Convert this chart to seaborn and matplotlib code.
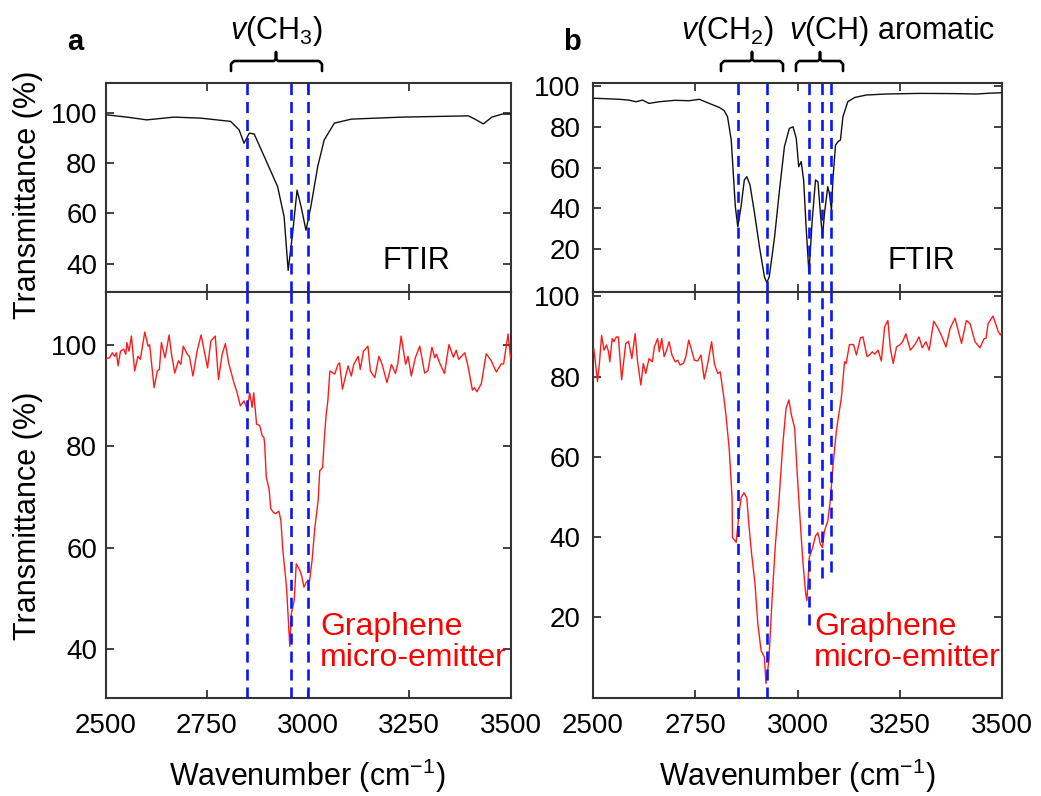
import matplotlib
matplotlib.use("Agg")
import matplotlib.pyplot as plt
import numpy as np
import pandas as pd
import seaborn as sns
from matplotlib.lines import Line2D

# ---- data ------------------------------------------------------------------
# panel a, FTIR (black)
a_ftir_wn = [2503, 2553, 2602, 2669, 2735, 2809, 2830, 2842, 2855, 2867, 2892, 2925,
             2941, 2951, 2962, 2973, 2983, 2995, 3007, 3024, 3040, 3065, 3107, 3231,
             3396, 3412, 3433, 3454, 3479, 3499]
a_ftir_t = [99.3, 98.4, 97.3, 98.4, 98.0, 96.7, 93.3, 88.0, 92.0, 91.7, 82.7, 70.7,
            58.7, 37.3, 52.0, 69.3, 62.7, 53.3, 62.7, 78.7, 89.3, 96.0, 97.6, 98.4,
            98.9, 97.6, 95.7, 98.4, 99.6, 99.6]

# panel a, graphene micro-emitter (red)
a_em_wn = [2502, 2510, 2517, 2522, 2527, 2531, 2537, 2545, 2550, 2553, 2558, 2564, 2572,
           2580, 2586, 2597, 2605, 2609, 2620, 2628, 2633, 2638, 2647, 2657, 2663, 2671,
           2680, 2686, 2692, 2702, 2707, 2716, 2726, 2736, 2744, 2752, 2760, 2771, 2779,
           2788, 2796, 2804, 2817, 2825, 2833, 2842, 2850, 2856, 2862, 2866, 2873, 2881,
           2887, 2891, 2893, 2897, 2904, 2908, 2914, 2920, 2928, 2933, 2938, 2947, 2955,
           2959, 2966, 2971, 2980, 2985, 2990, 2996, 3004, 3010, 3017, 3025, 3029, 3036,
           3041, 3045, 3049, 3054, 3062, 3066, 3074, 3078, 3085, 3099, 3107, 3113, 3124,
           3129, 3137, 3148, 3154, 3165, 3175, 3183, 3195, 3206, 3216, 3222, 3230, 3241,
           3247, 3255, 3265, 3276, 3288, 3296, 3306, 3313, 3317, 3325, 3337, 3348, 3359,
           3366, 3372, 3387, 3395, 3406, 3411, 3417, 3428, 3440, 3452, 3465, 3477, 3483,
           3494, 3500]
a_em_t = [97.4, 97.5, 98.5, 97.8, 98.5, 95.9, 98.8, 99.2, 98.2, 100.5, 98.8, 101.8, 94.9,
          97.8, 97.2, 102.6, 99.8, 100.1, 91.6, 94.9, 95.2, 100.5, 97.5, 102.0, 98.2, 94.5,
          96.9, 96.2, 99.8, 98.2, 97.8, 93.9, 98.8, 102.0, 98.8, 95.5, 100.8, 101.8, 93.2,
          98.2, 100.3, 96.5, 92.6, 90.6, 88.0, 89.0, 87.3, 90.6, 87.7, 90.6, 84.4, 84.1,
          82.1, 81.8, 80.5, 73.9, 71.6, 67.7, 67.0, 66.7, 67.2, 65.4, 59.4, 52.2, 40.5,
          47.0, 49.6, 56.8, 55.5, 54.2, 52.2, 53.2, 53.5, 57.5, 64.0, 69.3, 75.2, 75.8,
          82.4, 86.4, 89.0, 94.9, 94.5, 94.3, 96.2, 96.5, 91.3, 95.9, 93.9, 96.2, 97.8,
          95.2, 98.8, 99.8, 94.9, 93.6, 97.8, 96.2, 92.6, 96.2, 94.4, 96.5, 101.8, 96.2,
          97.8, 93.9, 97.5, 99.8, 94.5, 94.9, 99.6, 97.5, 98.2, 96.5, 94.4, 100.1, 97.6,
          99.0, 97.2, 98.5, 95.9, 91.1, 91.6, 90.8, 92.4, 98.3, 97.0, 94.7, 96.3, 96.3,
          102.2, 97.5]

# panel b, FTIR (black)
b_ftir_wn = [2502, 2530, 2564, 2588, 2605, 2621, 2637, 2662, 2700, 2735, 2760, 2784, 2809,
             2821, 2829, 2838, 2843, 2848, 2854, 2862, 2870, 2876, 2884, 2895, 2907, 2919,
             2925, 2931, 2944, 2956, 2968, 2980, 2989, 2997, 3003, 3009, 3015, 3021, 3028,
             3036, 3044, 3050, 3056, 3061, 3066, 3074, 3078, 3083, 3087, 3093, 3099, 3105,
             3111, 3123, 3140, 3168, 3217, 3299, 3380, 3438, 3470, 3498]
b_ftir_t = [94.0, 93.8, 93.5, 93.1, 92.3, 93.1, 91.5, 92.3, 93.0, 92.8, 93.5, 91.5, 89.5,
            87.9, 84.9, 73.5, 57.2, 40.8, 31.0, 40.8, 53.9, 55.5, 51.4, 37.5, 21.1, 6.4,
            3.5, 6.4, 26.0, 49.0, 70.2, 79.2, 80.0, 74.3, 60.4, 62.9, 53.9, 31.0, 8.1,
            34.2, 53.9, 53.0, 37.5, 26.0, 37.5, 50.6, 47.3, 39.1, 55.5, 71.0, 72.7, 73.5,
            84.9, 92.3, 94.4, 95.6, 96.1, 96.4, 96.3, 96.1, 96.5, 96.7]

# panel b, graphene micro-emitter (red)
b_em_wn = [2502, 2511, 2516, 2521, 2527, 2533, 2538, 2541, 2547, 2551, 2557, 2562, 2570,
           2580, 2587, 2595, 2603, 2609, 2617, 2623, 2629, 2637, 2645, 2650, 2658, 2662,
           2668, 2674, 2680, 2686, 2693, 2701, 2707, 2713, 2721, 2727, 2734, 2739, 2748,
           2756, 2764, 2772, 2780, 2790, 2797, 2805, 2811, 2819, 2825, 2833, 2840, 2841,
           2850, 2856, 2862, 2869, 2876, 2881, 2887, 2896, 2903, 2911, 2919, 2923, 2930,
           2938, 2946, 2954, 2964, 2972, 2979, 2985, 2993, 2998, 3005, 3013, 3020, 3023,
           3029, 3037, 3044, 3050, 3056, 3061, 3066, 3074, 3080, 3087, 3095, 3099, 3107,
           3115, 3119, 3127, 3137, 3144, 3154, 3160, 3170, 3176, 3183, 3189, 3197, 3205,
           3213, 3221, 3227, 3234, 3242, 3250, 3257, 3265, 3276, 3287, 3297, 3305, 3314,
           3322, 3333, 3344, 3355, 3363, 3373, 3385, 3397, 3401, 3413, 3422, 3434, 3446,
           3456, 3461, 3466, 3478, 3491, 3496, 3499]
b_em_t = [87.0, 78.8, 83.7, 90.3, 86.6, 87.9, 86.2, 83.7, 89.5, 88.7, 89.9, 89.9, 79.2,
          88.3, 88.8, 84.5, 90.7, 83.7, 77.9, 83.3, 80.8, 84.5, 83.7, 87.4, 89.5, 86.2,
          89.5, 85.0, 86.6, 88.7, 85.4, 83.7, 84.1, 82.9, 83.3, 85.0, 89.1, 87.4, 84.1,
          83.9, 85.4, 79.4, 83.0, 88.7, 83.1, 80.8, 81.2, 75.5, 70.5, 62.0, 49.8, 39.9,
          38.7, 44.9, 49.8, 51.1, 49.8, 43.2, 36.6, 28.4, 18.4, 11.7, 10.1, 3.5, 9.2,
          24.9, 38.2, 48.1, 63.0, 72.1, 74.2, 70.5, 67.2, 58.1, 46.5, 34.1, 25.9, 24.2,
          35.0, 37.4, 40.3, 41.1, 38.2, 37.4, 41.6, 44.0, 49.0, 58.1, 66.4, 69.3, 74.5,
          83.7, 83.3, 88.0, 88.0, 85.4, 89.7, 89.9, 85.0, 85.4, 86.2, 85.6, 86.6, 83.9,
          92.4, 94.0, 87.0, 83.3, 87.4, 87.9, 88.7, 90.7, 86.6, 88.0, 89.9, 87.2, 88.7,
          86.6, 93.8, 92.0, 89.5, 87.4, 92.0, 94.6, 89.9, 88.3, 94.0, 93.2, 88.7, 87.2,
          89.4, 89.6, 93.2, 95.1, 91.2, 90.4, 91.0]

# band positions (blue dashed) and where they stop in the lower panel
a_bands = [2850, 2957, 2999]
b_bands = [2854, 2926, 3027, 3059, 3083]
b_band_ends = [None, None, 18.0, 29.7, 31.3]

x_ticks = [2500, 2750, 3000, 3250, 3500]

# ---- style -----------------------------------------------------------------
sns.set_style("ticks")
plt.rcParams["font.family"] = ["Liberation Sans", "DejaVu Sans"]
plt.rcParams["text.color"] = "black"
plt.rcParams["axes.labelcolor"] = "black"
plt.rcParams["xtick.color"] = "black"
plt.rcParams["ytick.color"] = "black"
plt.rcParams["mathtext.fontset"] = "custom"
plt.rcParams["mathtext.rm"] = "Liberation Sans"
plt.rcParams["mathtext.it"] = "Liberation Sans:italic"
plt.rcParams["mathtext.bf"] = "Liberation Sans:bold"

W, H = 1041, 796
fig = plt.figure(figsize=(W / 100, H / 100), dpi=100)


def fx(px):
    return px / W


def fy(py):
    return 1 - py / H


def panel(x0, x1, y0, y1):
    return fig.add_axes([fx(x0), fy(y1), fx(x1) - fx(x0), fy(y0) - fy(y1)])


ax_a_top = panel(105.5, 510.5, 83, 292)
ax_a_bot = panel(105.5, 510.5, 292, 698)
ax_b_top = panel(593, 1002, 83, 292)
ax_b_bot = panel(593, 1002, 292, 698)

BLUE = "#0a14ff"
DASH = (0, (4.2, 2.6))

series = [
    (ax_a_top, a_ftir_wn, a_ftir_t, "#111111", (28.7, 112), [40, 60, 80, 100]),
    (ax_a_bot, a_em_wn, a_em_t, "#ff1a1a", (30.3, 110.5), [40, 60, 80, 100]),
    (ax_b_top, b_ftir_wn, b_ftir_t, "#111111", (-1.1, 101.5), [20, 40, 60, 80, 100]),
    (ax_b_bot, b_em_wn, b_em_t, "#ff1a1a", (-0.1, 101.1), [20, 40, 60, 80, 100]),
]

for ax, wn, t, color, ylim, yt in series:
    df = pd.DataFrame({"wn": wn, "t": t})
    sns.lineplot(data=df, x="wn", y="t", color=color, lw=1.0, ax=ax,
                 sort=False, estimator=None, zorder=3)
    ax.set_xlim(2500, 3500)
    ax.set_ylim(*ylim)
    ax.set_xticks(x_ticks)
    ax.set_yticks(yt)
    ax.set_xlabel("")
    ax.set_ylabel("")
    for sp in ax.spines.values():
        sp.set_visible(True)
        sp.set_color("#333333")
        sp.set_linewidth(1.5)
    ax.tick_params(direction="in", length=6, width=1.3, color="#333333",
                   labelcolor="black", top=True, right=True, labelsize=20)
    ax.tick_params(axis="x", pad=11, labelsize=20)

for ax in (ax_a_top, ax_b_top):
    ax.tick_params(axis="x", labelbottom=False)
for ax in (ax_a_top, ax_a_bot):
    ax.tick_params(axis="y", pad=6)
for ax in (ax_b_top, ax_b_bot):
    ax.tick_params(axis="y", pad=9)

# blue dashed band markers
for x in a_bands:
    ax_a_top.axvline(x, color=BLUE, lw=1.9, ls=DASH, zorder=4)
    ax_a_bot.axvline(x, color=BLUE, lw=1.9, ls=DASH, zorder=4)
for x, end in zip(b_bands, b_band_ends):
    ax_b_top.axvline(x, color=BLUE, lw=1.9, ls=DASH, zorder=4)
    lo = ax_b_bot.get_ylim()[0] if end is None else end
    ax_b_bot.vlines(x, lo, ax_b_bot.get_ylim()[1], color=BLUE, lw=1.9,
                    linestyles=DASH, zorder=4)

# brackets above the panels
def bracket(x0, xm, x1):
    pts = [(x0, 71), (x0, 64), (x0 + 3, 61), (xm - 2, 61), (xm, 59), (xm, 52),
           (xm, 59), (xm + 2, 61), (x1 - 3, 61), (x1, 64), (x1, 71)]
    fig.add_artist(Line2D([fx(p[0]) for p in pts], [fy(p[1]) for p in pts],
                          color="black", lw=1.9, solid_joinstyle="round"))


bracket(231, 276, 322)
bracket(721, 752, 783)
bracket(796, 820, 843)

fig.text(fx(276), fy(39), r"$\mathit{v}$(CH$_3$)", ha="center", va="baseline", fontsize=22)
fig.text(fx(727), fy(39), r"$\mathit{v}$(CH$_2$)", ha="center", va="baseline", fontsize=22)
fig.text(fx(892), fy(39), r"$\mathit{v}$(CH) aromatic", ha="center", va="baseline", fontsize=22)

fig.text(fx(67), fy(50), "a", fontsize=21, fontweight="bold", va="baseline")
fig.text(fx(563), fy(50), "b", fontsize=21, fontweight="bold", va="baseline")

fig.text(fx(416), fy(261), "FTIR", ha="center", va="center", fontsize=22)
fig.text(fx(921), fy(261), "FTIR", ha="center", va="center", fontsize=22)

fig.text(fx(320), fy(612), "Graphene\nmicro-emitter", ha="left", va="top",
         fontsize=23, color="#ff0000", linespacing=1.05)
fig.text(fx(814), fy(612), "Graphene\nmicro-emitter", ha="left", va="top",
         fontsize=23, color="#ff0000", linespacing=1.05)

fig.text(fx(28), fy(195), "Transmittance (%)", rotation=90, ha="center", va="center",
         fontsize=22)
fig.text(fx(28), fy(516), "Transmittance (%)", rotation=90, ha="center", va="center",
         fontsize=22)

for xc in (307, 797):
    fig.text(fx(xc), fy(776), r"Wavenumber (cm$^{-1}$)", ha="center", va="center",
             fontsize=22)

fig.savefig("out.png", dpi=100)
